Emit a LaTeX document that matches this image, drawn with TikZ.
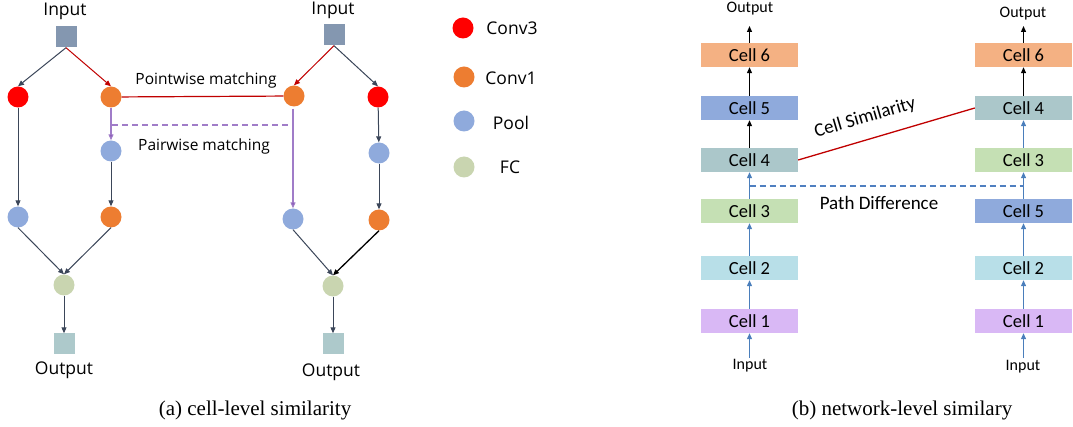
\documentclass[tikz,border=0pt]{standalone}
\usepackage{fontspec}
\setmainfont{Liberation Serif}
\newfontfamily\labelfont{Open Sans}
\newfontfamily\cellfont{Carlito}
\usetikzlibrary{arrows.meta}

\definecolor{inbox}{HTML}{8497B0}
\definecolor{outbox}{HTML}{ADC9CB}
\definecolor{cthree}{HTML}{FF0000}
\definecolor{cone}{HTML}{ED7D31}
\definecolor{pool}{HTML}{8FAADC}
\definecolor{fc}{HTML}{C9D5B0}
\definecolor{darkedge}{HTML}{3B4659}
\definecolor{rededge}{HTML}{C00000}
\definecolor{purpleline}{HTML}{A07CC8}
\definecolor{purpletip}{HTML}{7030A0}
\definecolor{blueedge}{HTML}{4A7EBB}
\definecolor{dashblue}{HTML}{4F7FC0}
\definecolor{cellsix}{HTML}{F4B183}
\definecolor{cellfive}{HTML}{8FAADC}
\definecolor{cellfour}{HTML}{ABC7CA}
\definecolor{cellthree}{HTML}{C5E0B4}
\definecolor{celltwo}{HTML}{B8DFE8}
\definecolor{cellone}{HTML}{D9B8F5}

\tikzset{
  op/.style={circle, minimum size=21pt, inner sep=0pt, draw=none, fill=#1},
  io/.style={rectangle, minimum size=21pt, inner sep=0pt, draw=none, fill=#1},
  lbl/.style={inner sep=0pt, font=\labelfont\fontsize{17.5}{20}\selectfont},
  smalllbl/.style={inner sep=0pt, font=\labelfont\fontsize{15.5}{18}\selectfont},
  cellbox/.style={rectangle, minimum width=97pt, minimum height=24pt, inner sep=0pt,
    draw=none, fill=#1, font=\cellfont\fontsize{18.5}{20}\selectfont},
  celllbl/.style={inner sep=0pt, font=\cellfont\fontsize{16}{18}\selectfont},
  caption/.style={inner sep=0pt, font=\fontsize{21}{24}\selectfont},
  tip/.style={-{Triangle[length=6pt,width=5pt]}},
  dk/.style={tip, draw=darkedge, line width=1pt},
  rd/.style={tip, draw=rededge, line width=1pt},
  pu/.style={draw=purpleline, line width=1.2pt, -{Triangle[length=6pt,width=5pt,fill=purpletip]}},
  bk/.style={-{Triangle[length=6pt,width=5pt]}, draw=black, line width=1.1pt},
  bl/.style={-{Triangle[length=6pt,width=5pt]}, draw=blueedge, line width=1.1pt},
}

\begin{document}
\begin{tikzpicture}[x=1pt,y=-1pt]
\useasboundingbox (0,0) rectangle (1073,427);

% ---------- cell-level similarity ----------
\node[lbl] (tin1) at (65,11) {Input};
\node[lbl] (tin2) at (333,10) {Input};
\node[io=inbox] (in1) at (66,37) {};
\node[io=inbox] (in2) at (334,35) {};

\node[op=cthree] (a1) at (18,97) {};
\node[op=cone]   (b1) at (111,97) {};
\node[op=pool]   (b2) at (111,151) {};
\node[op=pool]   (a3) at (18,217) {};
\node[op=cone]   (b3) at (111,217) {};
\node[op=fc]     (f1) at (64,285) {};
\node[io=outbox] (out1) at (64,344) {};

\node[op=cone]   (c1) at (294,96) {};
\node[op=cthree] (d1) at (378,97) {};
\node[op=pool]   (d2) at (379,153) {};
\node[op=pool]   (c3) at (293,219) {};
\node[op=cone]   (d3) at (379,220) {};
\node[op=fc]     (f2) at (333,286) {};
\node[io=outbox] (out2) at (333,344) {};

\node[lbl] (tout1) at (64,370) {Output};
\node[lbl] (tout2) at (331,372) {Output};

\draw[dk] (in1.south) -- (a1.north);
\draw[rd] (in1.south) -- (b1.north);
\draw[rd] (in2.south) -- (c1.north);
\draw[dk] (in2.south) -- (d1.north);

\draw[dk] (a1) -- (a3);
\draw[pu] (b1) -- (b2);
\draw[dk] (b2) -- (b3);
\draw[dk] (d1) -- (d2);
\draw[dk] (d2) -- (d3);
\draw[pu, shorten <=2pt] (c1.south -| c3.north) -- (c3.north);

\draw[dk] (a3.south) -- (f1.north);
\draw[dk] (b3.south) -- (f1.north);
\draw[dk] (c3.south) -- (f2.north);
\draw[dk, draw=black, line width=1.3pt] (d3.south) -- (f2.north);
\draw[dk] (f1) -- (out1);
\draw[dk] (f2) -- (out2);

% matching between the two cells
\draw[draw=rededge, line width=1.2pt] (b1) -- (c1);
\coordinate (pwl) at (112,125);
\coordinate (pwr) at (293,125);
\draw[draw=purpleline, line width=1.2pt, dashed, dash pattern=on 6pt off 4pt] (pwl) -- (pwr);
\node[smalllbl] (tpoint) at (206,80) {Pointwise matching};
\node[smalllbl] (tpair) at (204,146) {Pairwise matching};

% legend
\node[op=cthree] (k1) at (463,28) {};
\node[op=cone]   (k2) at (464,77) {};
\node[op=pool]   (k3) at (464,121) {};
\node[op=fc]     (k4) at (464,167) {};
\node[lbl] (tk1) at (512,28) {Conv3};
\node[lbl] (tk2) at (511,78) {Conv1};
\node[lbl] (tk3) at (511,123) {Pool};
\node[lbl] (tk4) at (510,167) {FC};

\node[caption] (capa) at (255,410) {(a) cell-level similarity};

% ---------- network-level similarity ----------
\node[cellbox=cellsix]   (l6) at (749.5,55)  {Cell 6};
\node[cellbox=cellfive]  (l5) at (749.5,108) {Cell 5};
\node[cellbox=cellfour]  (l4) at (749.5,160) {Cell 4};
\node[cellbox=cellthree] (l3) at (749.5,211) {Cell 3};
\node[cellbox=celltwo]   (l2) at (749.5,268) {Cell 2};
\node[cellbox=cellone]   (l1) at (749.5,321) {Cell 1};

\node[cellbox=cellsix]   (r6) at (1023.5,55)  {Cell 6};
\node[cellbox=cellfour]  (r4) at (1023.5,108) {Cell 4};
\node[cellbox=cellthree] (r3) at (1023.5,160) {Cell 3};
\node[cellbox=cellfive]  (r5) at (1023.5,211) {Cell 5};
\node[cellbox=celltwo]   (r2) at (1023.5,268) {Cell 2};
\node[cellbox=cellone]   (r1) at (1023.5,321) {Cell 1};

\node[celllbl] (lout) at (750,9) {Output};
\node[celllbl] (rout) at (1023,14) {Output};
\node[celllbl] (lin) at (750,366) {Input};
\node[celllbl] (rin) at (1023,367) {Input};

\coordinate (lo) at (749.5,26);
\coordinate (ro) at (1023.5,26);
\coordinate (li) at (749.5,358);
\coordinate (ri) at (1023.5,358);

\draw[bk] (l6.north) -- (lo);
\draw[bk] (l5) -- (l6);
\draw[bk] (l4) -- (l5);
\draw[bl] (l3) -- (l4);
\draw[bl] (l2) -- (l3);
\draw[bl] (l1) -- (l2);
\draw[bl] (li) -- (l1.south);

\draw[bk] (r6.north) -- (ro);
\draw[bk] (r4) -- (r6);
\draw[bl] (r3) -- (r4);
\draw[bl] (r5) -- (r3);
\draw[bl] (r2) -- (r5);
\draw[bl] (r1) -- (r2);
\draw[bl] (ri) -- (r1.south);

\draw[draw=rededge, line width=1.3pt] (l4.east) -- (r4.west);
\node[inner sep=0pt, rotate=16.4, font=\cellfont\fontsize{19}{21}\selectfont] (tsim) at (865,118) {Cell Similarity};

\coordinate (pdl) at (749.5,186);
\coordinate (pdr) at (1023.5,186);
\draw[draw=dashblue, line width=1.2pt, dash pattern=on 6pt off 4pt] (pdl) -- (pdr);
\node[inner sep=0pt, font=\cellfont\fontsize{19}{21}\selectfont] (tpath) at (879,203) {Path Difference};

\node[caption] (capb) at (902,410) {(b) network-level similary};
\end{tikzpicture}
\end{document}
